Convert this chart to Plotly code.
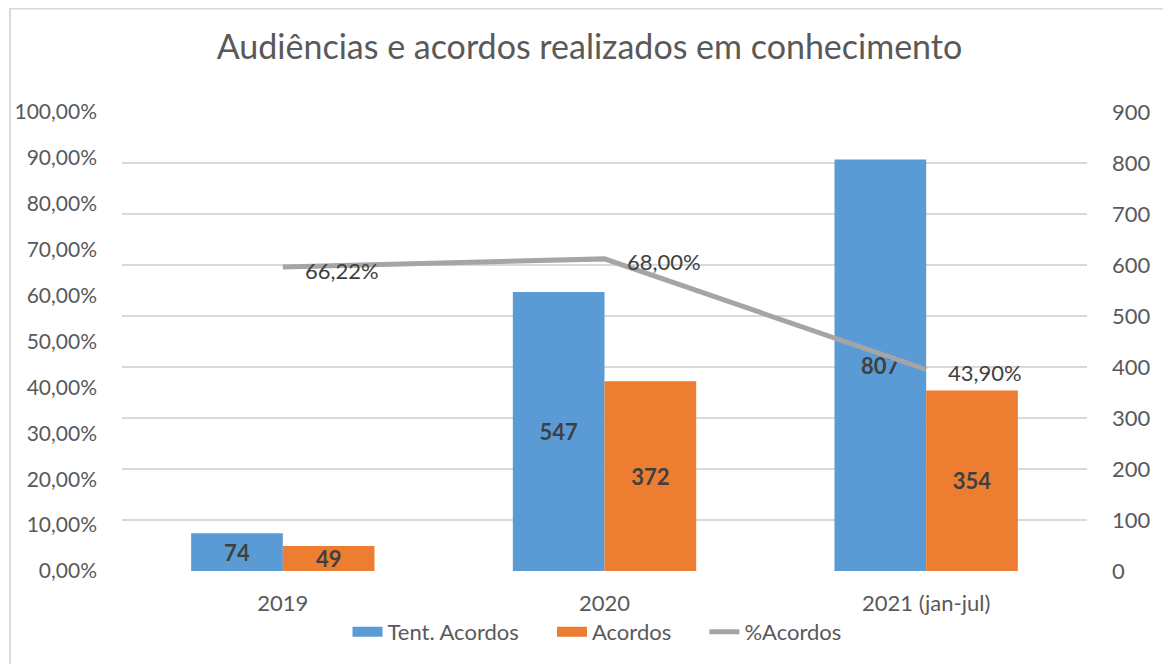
import plotly.graph_objects as go

categories = ["2019", "2020", "2021 (jan-jul)"]
tent_acordos = [74, 547, 807]
acordos = [49, 372, 354]
pct_acordos = [0.6622, 0.68, 0.439]
pct_labels = ["66,22%", "68,00%", "43,90%"]
series_names = ["Tent. Acordos", "Acordos", "%Acordos"]
left_ticks = [0, 0.1, 0.2, 0.3, 0.4, 0.5, 0.6, 0.7, 0.8, 0.9, 1.0]
right_ticks = [0, 100, 200, 300, 400, 500, 600, 700, 800, 900]

BLUE, ORANGE, GRAY = "#5B9BD5", "#ED7D31", "#A5A5A5"

# page has an 8px body margin, so figure coords = reference coords - 8
W, H = 1163, 656
ML, MR, MT, MB = 114, 84, 104, 93
PW, PH = W - ML - MR, H - MT - MB
FONT = "Lato, 'Open Sans', sans-serif"
TXT = "#595959"
PAD = "\u00a0" * 5

fig = go.Figure()
fig.add_trace(go.Bar(
    x=categories, y=tent_acordos, name=series_names[0], yaxis="y",
    marker=dict(color=BLUE, line=dict(width=0)), showlegend=False,
    text=tent_acordos, textposition="inside", insidetextanchor="middle", textangle=0,
    textfont=dict(family=FONT, size=22, color="#404040", weight="bold"),
    cliponaxis=False,
))
fig.add_trace(go.Bar(
    x=categories, y=acordos, name=series_names[1], yaxis="y",
    marker=dict(color=ORANGE, line=dict(width=0)), showlegend=False,
    text=acordos, textposition="inside", insidetextanchor="middle", textangle=0,
    textfont=dict(family=FONT, size=22, color="#404040", weight="bold"),
    cliponaxis=False,
))
fig.add_trace(go.Scatter(
    x=categories, y=pct_acordos, name=series_names[2], yaxis="y2",
    mode="lines", line=dict(color=GRAY, width=5), showlegend=False,
    cliponaxis=False,
))
# legend entries (wide swatches like the reference)
for k, (nm, col, w) in enumerate(zip(series_names, [BLUE, ORANGE, GRAY], [17, 17, 5])):
    label = nm + (PAD if k < len(series_names) - 1 else "")
    fig.add_trace(go.Scatter(x=[categories[0]], y=[None], mode="lines", name=label,
                             line=dict(color=col, width=w), yaxis="y", showlegend=True))

for i, (v, lab) in enumerate(zip(pct_acordos, pct_labels)):
    fig.add_annotation(x=i, y=v, xref="x", yref="y2", text=lab, showarrow=False,
                       xanchor="left", yanchor="middle", xshift=20, yshift=-3,
                       font=dict(family=FONT, size=22, color="#404040"))

# chart border (left/top visible in reference)
fig.add_shape(type="rect", xref="paper", yref="paper",
              x0=(2 - ML) / PW, x1=(W + 20 - ML) / PW,
              y0=(-20 - MB) / PH, y1=(H - 0.5 - MB) / PH,
              line=dict(color="#D9D9D9", width=2), fillcolor="rgba(0,0,0,0)", layer="below")

fig.update_layout(
    width=W, height=H,
    margin=dict(l=ML, r=MR, t=MT, b=MB, autoexpand=False),
    paper_bgcolor="white", plot_bgcolor="white",
    separators=",.",
    font=dict(family=FONT, size=22, color=TXT),
    title=dict(text="Audiências e acordos realizados em conhecimento",
               x=0.5, xanchor="center", xref="container", y=1 - 39 / H, yanchor="middle",
               font=dict(family=FONT, size=34, color=TXT)),
    barmode="group", bargap=0.43, bargroupgap=0,
    uniformtext=dict(minsize=22, mode="show"),
    xaxis=dict(type="category", categoryarray=categories, categoryorder="array",
               range=[-0.5, len(categories) - 0.5],
               showgrid=False, showline=False, ticks="", ticklabelstandoff=17,
               tickfont=dict(size=22, color=TXT)),
    yaxis=dict(range=[0, 900], tickvals=right_ticks, side="right",
               showgrid=True, gridcolor="#D9D9D9", gridwidth=2, zeroline=False,
               showline=False, ticks="", ticklabelstandoff=24,
               tickfont=dict(size=22, color=TXT)),
    yaxis2=dict(range=[0, 1], tickvals=left_ticks, tickformat=".2%", overlaying="y",
                side="left", showgrid=False, zeroline=False, showline=False, ticks="",
                ticklabelstandoff=24, tickfont=dict(size=21, color=TXT)),
    legend=dict(orientation="h", x=589 / W, xanchor="center", xref="container",
                y=-(624 - (H - MB)) / PH, yanchor="middle", bgcolor="rgba(0,0,0,0)",
                font=dict(size=22, color=TXT), traceorder="normal",
                itemwidth=30, tracegroupgap=0),
    showlegend=True,
)

fig.write_html("out.html")
